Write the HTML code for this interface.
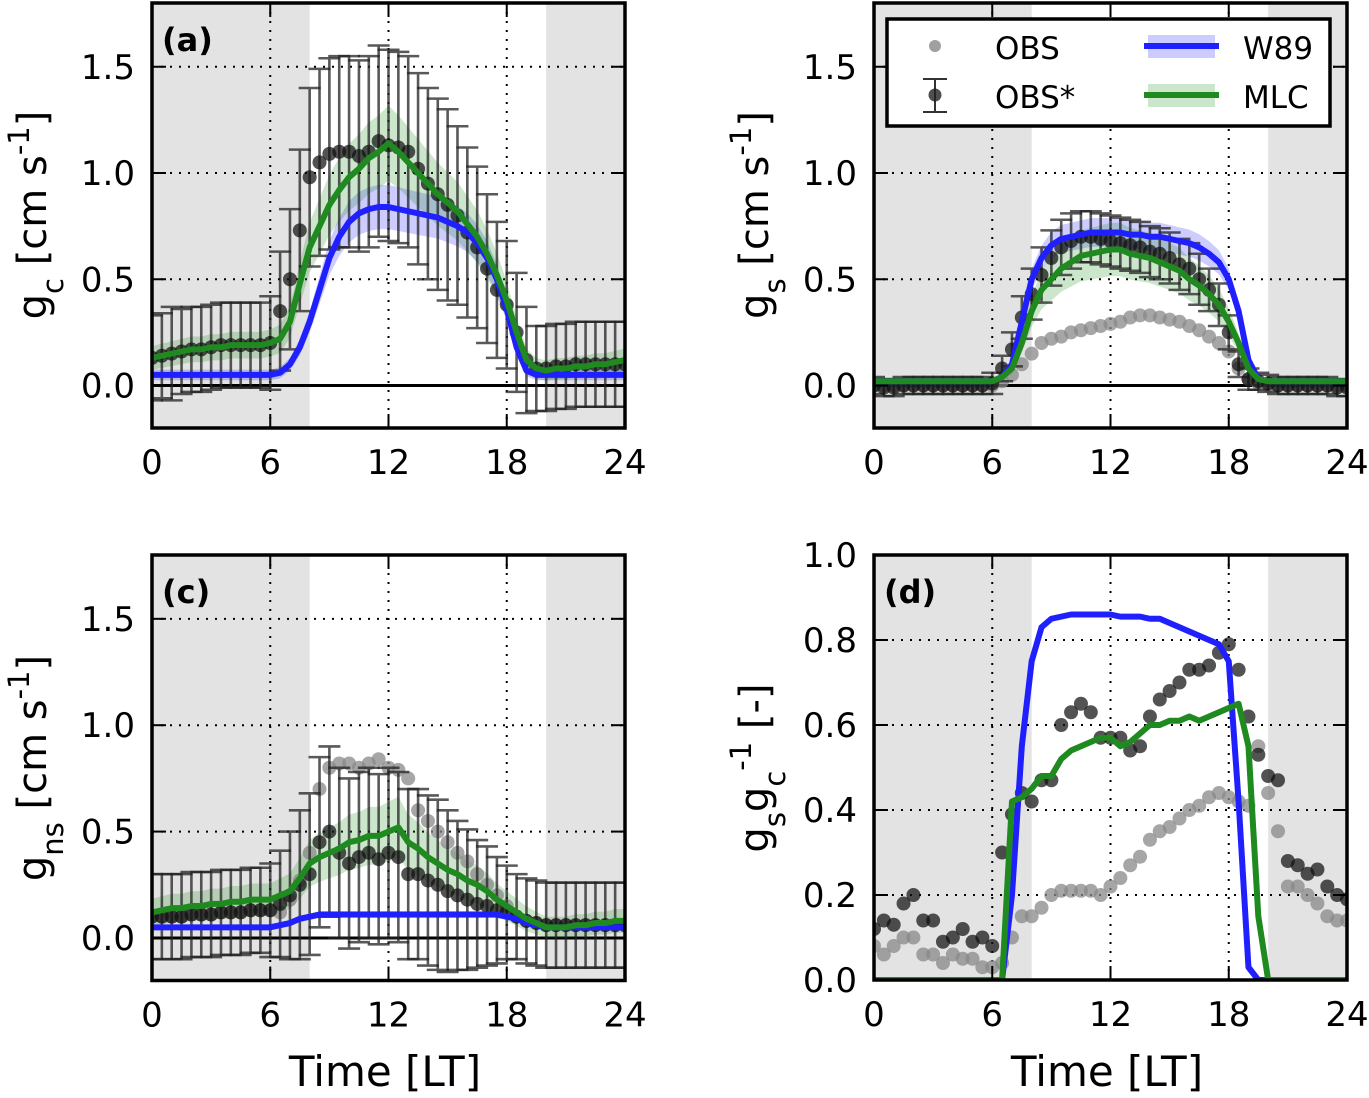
<!DOCTYPE html>
<html><head><meta charset="utf-8"><style>
html,body{margin:0;padding:0;background:#fff}
svg text{font-family:"DejaVu Sans","Liberation Sans",sans-serif;fill:#000}
</style></head><body>
<svg id="fig" width="1369" height="1093" viewBox="0 0 1369 1093" xmlns="http://www.w3.org/2000/svg"></svg>
<script>
// half-hourly times 0..24
const times = Array.from({length:49},(_, i)=>i*0.5);
const xTicks = [0,6,12,18,24];
const yTicksG = [0.0,0.5,1.0,1.5];
const yTicksD = [0.0,0.2,0.4,0.6,0.8,1.0];
const nightSpans = [[0,8],[20,24]];

// panel a: gc
const obsStarA = [0.13,0.14,0.15,0.16,0.17,0.17,0.18,0.19,0.19,0.19,0.19,0.19,0.2,0.35,0.5,0.73,0.98,1.05,1.09,1.1,1.1,1.08,1.1,1.15,1.13,1.12,1.1,1.02,0.95,0.9,0.85,0.8,0.72,0.65,0.55,0.45,0.38,0.25,0.12,0.08,0.08,0.09,0.09,0.1,0.1,0.1,0.1,0.1,0.1];
const errA = [0.2,0.2,0.22,0.2,0.2,0.2,0.2,0.2,0.2,0.2,0.2,0.2,0.22,0.28,0.33,0.38,0.42,0.44,0.45,0.45,0.45,0.45,0.45,0.45,0.45,0.45,0.45,0.45,0.45,0.45,0.45,0.42,0.4,0.38,0.35,0.32,0.3,0.28,0.25,0.2,0.2,0.2,0.2,0.2,0.2,0.2,0.2,0.2,0.2];
const mlcA = [0.13,0.14,0.15,0.16,0.17,0.17,0.18,0.18,0.19,0.19,0.19,0.19,0.2,0.22,0.3,0.48,0.65,0.75,0.85,0.92,0.98,1.02,1.07,1.1,1.14,1.1,1.05,1.0,0.95,0.9,0.86,0.82,0.76,0.7,0.62,0.52,0.4,0.25,0.12,0.08,0.07,0.08,0.08,0.09,0.09,0.1,0.1,0.11,0.12];
const w89A = [0.05,0.05,0.05,0.05,0.05,0.05,0.05,0.05,0.05,0.05,0.05,0.05,0.05,0.06,0.1,0.18,0.3,0.45,0.6,0.7,0.77,0.81,0.83,0.84,0.84,0.83,0.82,0.81,0.8,0.79,0.77,0.75,0.72,0.67,0.6,0.5,0.36,0.18,0.07,0.05,0.05,0.05,0.05,0.05,0.05,0.05,0.05,0.05,0.05];

// panel b: gs
const obsStarB = [0,-0.01,-0.01,0,0,0,0,0,0,0,0,0,0.01,0.08,0.17,0.32,0.43,0.52,0.6,0.65,0.68,0.7,0.7,0.69,0.68,0.67,0.66,0.65,0.63,0.62,0.6,0.57,0.55,0.5,0.45,0.38,0.25,0.1,0.03,0.02,0.01,0,0,0,0,0,0,-0.01,-0.01];
const errB = [0.04,0.04,0.04,0.04,0.04,0.04,0.04,0.04,0.04,0.04,0.04,0.04,0.05,0.06,0.08,0.1,0.12,0.13,0.13,0.13,0.13,0.12,0.12,0.12,0.12,0.12,0.12,0.12,0.12,0.12,0.12,0.12,0.12,0.12,0.1,0.1,0.08,0.06,0.05,0.04,0.04,0.04,0.04,0.04,0.04,0.04,0.04,0.04,0.04];
const obsB = [0,0,0,0,0,0,0,0,0,0,0,0,0,0.02,0.05,0.1,0.15,0.2,0.22,0.23,0.25,0.26,0.27,0.28,0.29,0.3,0.32,0.33,0.33,0.32,0.31,0.3,0.28,0.26,0.23,0.2,0.16,0.08,0.03,0.01,0,0,0,0,0,0,0,0,0];
const w89B = [0.02,0.02,0.02,0.02,0.02,0.02,0.02,0.02,0.02,0.02,0.02,0.02,0.02,0.04,0.1,0.3,0.5,0.6,0.66,0.69,0.7,0.71,0.72,0.72,0.72,0.72,0.71,0.71,0.7,0.7,0.69,0.68,0.67,0.65,0.62,0.58,0.5,0.35,0.12,0.03,0.02,0.02,0.02,0.02,0.02,0.02,0.02,0.02,0.02];
const mlcB = [0.02,0.02,0.02,0.02,0.02,0.02,0.02,0.02,0.02,0.02,0.02,0.02,0.02,0.04,0.08,0.2,0.35,0.45,0.5,0.55,0.58,0.61,0.62,0.63,0.64,0.64,0.62,0.61,0.6,0.58,0.56,0.54,0.5,0.47,0.43,0.38,0.3,0.2,0.08,0.03,0.02,0.02,0.02,0.02,0.02,0.02,0.02,0.02,0.02];

// panel c: gns
const obsStarC = [0.1,0.1,0.1,0.1,0.11,0.11,0.11,0.12,0.12,0.12,0.13,0.13,0.13,0.16,0.2,0.25,0.3,0.45,0.5,0.4,0.35,0.38,0.4,0.37,0.4,0.38,0.3,0.3,0.27,0.25,0.22,0.2,0.18,0.16,0.15,0.13,0.12,0.1,0.08,0.07,0.06,0.06,0.06,0.06,0.06,0.06,0.06,0.06,0.06];
const errC = [0.2,0.2,0.2,0.2,0.2,0.2,0.2,0.2,0.2,0.2,0.2,0.2,0.22,0.25,0.3,0.35,0.38,0.4,0.4,0.4,0.4,0.4,0.4,0.4,0.4,0.4,0.4,0.4,0.4,0.4,0.38,0.35,0.33,0.3,0.28,0.25,0.22,0.2,0.2,0.2,0.2,0.2,0.2,0.2,0.2,0.2,0.2,0.2,0.2];
const obsC = [0.1,0.1,0.1,0.1,0.11,0.11,0.11,0.12,0.12,0.12,0.13,0.13,0.13,0.12,0.18,0.27,0.4,0.7,0.8,0.82,0.82,0.8,0.82,0.84,0.8,0.79,0.75,0.6,0.55,0.5,0.45,0.4,0.36,0.3,0.25,0.2,0.15,0.1,0.08,0.07,0.06,0.06,0.06,0.06,0.06,0.06,0.06,0.06,0.06];
const mlcC = [0.12,0.13,0.14,0.14,0.15,0.15,0.16,0.16,0.17,0.17,0.18,0.18,0.18,0.2,0.22,0.28,0.35,0.38,0.4,0.42,0.45,0.46,0.48,0.48,0.5,0.52,0.45,0.42,0.38,0.35,0.32,0.3,0.27,0.25,0.22,0.18,0.15,0.12,0.09,0.07,0.05,0.05,0.05,0.06,0.06,0.07,0.07,0.08,0.08];
const w89C = [0.05,0.05,0.05,0.05,0.05,0.05,0.05,0.05,0.05,0.05,0.05,0.05,0.05,0.06,0.07,0.09,0.1,0.11,0.11,0.11,0.11,0.11,0.11,0.11,0.11,0.11,0.11,0.11,0.11,0.11,0.11,0.11,0.11,0.11,0.11,0.11,0.1,0.09,0.07,0.06,0.05,0.05,0.05,0.05,0.05,0.05,0.05,0.05,0.05];

// panel d: gs/gc
const obsStarD = [0.12,0.14,0.13,0.18,0.2,0.14,0.14,0.09,0.1,0.12,0.09,0.1,0.08,0.3,0.39,0.44,0.42,0.47,0.47,0.6,0.63,0.65,0.63,0.57,0.57,0.57,0.54,0.55,0.62,0.66,0.68,0.7,0.73,0.73,0.74,0.77,0.79,0.73,0.62,0.53,0.48,0.47,0.28,0.27,0.25,0.26,0.22,0.2,0.19];
const obsD = [0.08,0.06,0.08,0.1,0.1,0.06,0.06,0.04,0.06,0.05,0.05,0.03,0.03,0.04,0.1,0.15,0.15,0.17,0.2,0.21,0.21,0.21,0.21,0.2,0.22,0.24,0.27,0.29,0.33,0.35,0.36,0.38,0.4,0.41,0.43,0.44,0.43,0.42,0.41,0.55,0.44,0.35,0.22,0.22,0.2,0.18,0.15,0.14,0.14];
const w89D = [0,0,0,0,0,0,0,0,0,0,0,0,0,0,0.2,0.55,0.75,0.83,0.85,0.855,0.86,0.86,0.86,0.86,0.86,0.855,0.855,0.855,0.85,0.85,0.84,0.83,0.82,0.81,0.8,0.79,0.75,0.42,0.03,0,0,0,0,0,0,0,0,0,0];
const mlcD = [0,0,0,0,0,0,0,0,0,0,0,0,0,0,0.42,0.43,0.45,0.48,0.48,0.52,0.54,0.55,0.56,0.57,0.57,0.55,0.56,0.58,0.6,0.6,0.61,0.61,0.62,0.61,0.62,0.63,0.64,0.65,0.55,0.15,0,0,0,0,0,0,0,0,0];

const NS='http://www.w3.org/2000/svg';
const svg=document.getElementById('fig');
function mk(tag,attrs,parent){const e=document.createElementNS(NS,tag);for(const k in attrs)e.setAttribute(k,attrs[k]);(parent||svg).appendChild(e);return e;}

function panel(opt){
  const g=mk('g',{});
  
  
  const L=opt.x0,R=opt.x1,T=opt.y1px,B=opt.y0px;
  const xs=t=>L+(t-0)/24*(R-L);
  const ys=v=>B-(v-opt.ymin)/(opt.ymax-opt.ymin)*(B-T);
  const clipId='clip'+opt.id;
  const cp=mk('clipPath',{id:clipId},g);mk('rect',{x:L,y:T,width:R-L,height:B-T},cp);
  const body=mk('g',{'clip-path':'url(#'+clipId+')'},g);
  nightSpans.forEach(s=>{const r=mk('rect',{x:xs(s[0]),y:T,width:xs(s[1])-xs(s[0]),height:B-T,fill:'#e3e3e3'},body);
    });
  xTicks.slice(1,-1).forEach(t=>{const l=mk('line',{x1:xs(t),x2:xs(t),y1:T,y2:B,stroke:'#000','stroke-width':2,'stroke-dasharray':'2,7'},body);
    });
  opt.yticks.forEach(v=>{if(v<=opt.ymin||v>=opt.ymax)return;const l=mk('line',{x1:L,x2:R,y1:ys(v),y2:ys(v),stroke:'#000','stroke-width':2,'stroke-dasharray':'2,7'},body);
    });
  if(opt.zeroLine){const z=mk('line',{x1:L,x2:R,y1:ys(0),y2:ys(0),stroke:'#000','stroke-width':3},body);
    }
  function band(arr,w0,wf,col,name){
    const w=v=>w0+wf*Math.abs(v);
    let d='';arr.forEach((v,i)=>{d+=(i?'L':'M')+xs(times[i])+','+ys(v+w(v));});
    for(let i=arr.length-1;i>=0;i--)d+='L'+xs(times[i])+','+ys(arr[i]-w(arr[i]));
    const p=mk('path',{d:d+'Z',fill:col,'fill-opacity':0.2,stroke:'none'},body);
    
  }
  function line(arr,col,name){
    const d=arr.map((v,i)=>(i?'L':'M')+xs(times[i])+','+ys(v)).join('');
    const p=mk('path',{d:d,fill:'none',stroke:col,'stroke-width':6,'stroke-linejoin':'round'},body);
    
  }
  function dots(arr,col,op,name,err){
    arr.forEach((v,i)=>{
      if(err){const x=xs(times[i]);
        const e=mk('path',{d:'M'+x+','+ys(v-err[i])+'V'+ys(v+err[i])+'M'+(x-11)+','+ys(v-err[i])+'H'+(x+11)+'M'+(x-11)+','+ys(v+err[i])+'H'+(x+11),stroke:'#222','stroke-width':2.6,'stroke-opacity':0.75,fill:'none'},body);
        }
      const c=mk('circle',{cx:xs(times[i]),cy:ys(v),r:7,fill:col,'fill-opacity':op},body);
      
    });
  }
  if(opt.bands){band(opt.w89,opt.bw89[0],opt.bw89[1],'#0000ff','w89-band');band(opt.mlc,opt.bmlc[0],opt.bmlc[1],'#008000','mlc-band');}
  if(opt.obs)dots(opt.obs,'#888',0.75,'obs-point',null);
  dots(opt.obsStar,'#111',0.72,'obs-star-point',opt.err);
  line(opt.w89,'#2020ff','w89-line');
  line(opt.mlc,'#1f8a1f','mlc-line');
  const f=mk('rect',{x:L,y:T,width:R-L,height:B-T,fill:'none',stroke:'#000','stroke-width':3.5},g);
  
  xTicks.forEach(t=>{
    mk('line',{x1:xs(t),x2:xs(t),y1:B,y2:B-14,stroke:'#000','stroke-width':2},g);
    mk('line',{x1:xs(t),x2:xs(t),y1:T,y2:T+14,stroke:'#000','stroke-width':2},g);
    const tx=mk('text',{x:xs(t),y:B+46,'font-size':34,'text-anchor':'middle'},g);tx.textContent=String(t);
    
  });
  opt.yticks.forEach(v=>{
    mk('line',{x1:L,x2:L+14,y1:ys(v),y2:ys(v),stroke:'#000','stroke-width':2},g);
    mk('line',{x1:R,x2:R-14,y1:ys(v),y2:ys(v),stroke:'#000','stroke-width':2},g);
    const tx=mk('text',{x:L-17,y:ys(v)+12,'font-size':34,'text-anchor':'end'},g);tx.textContent=v.toFixed(1);
    
  });
  const lb=mk('text',{x:L+10,y:T+48,'font-size':32,'font-weight':'bold'},g);lb.textContent=opt.label;
  
  return {xs,ys,L,R,T,B,g};
}

function ylabel(html,x,y){
  const t=mk('text',{x:0,y:0,'font-size':40,'text-anchor':'middle',transform:'translate('+x+','+y+') rotate(-90)'});
  t.innerHTML=html;
  
}
function xlabel(x,y){
  const t=mk('text',{x:x,y:y,'font-size':42,'text-anchor':'middle'});t.textContent='Time [LT]';
  
}

panel({id:'a',name:'panel-a',label:'(a)',x0:152,x1:625,y0px:428,y1px:3,ymin:-0.2,ymax:1.8,yticks:yTicksG,zeroLine:true,bands:true,
  obsStar:obsStarA,err:errA,mlc:mlcA,w89:w89A,bmlc:[0.04,0.12],bw89:[0.02,0.1]});
panel({id:'b',name:'panel-b',label:'(b)',x0:874,x1:1347,y0px:428,y1px:3,ymin:-0.2,ymax:1.8,yticks:yTicksG,zeroLine:true,bands:true,
  obsStar:obsStarB,err:errB,obs:obsB,mlc:mlcB,w89:w89B,bmlc:[0.01,0.18],bw89:[0.01,0.08]});
panel({id:'c',name:'panel-c',label:'(c)',x0:152,x1:625,y0px:980.5,y1px:555,ymin:-0.2,ymax:1.8,yticks:yTicksG,zeroLine:true,bands:true,
  obsStar:obsStarC,err:errC,obs:obsC,mlc:mlcC,w89:w89C,bmlc:[0.04,0.2],bw89:[0.01,0.05]});
panel({id:'d',name:'panel-d',label:'(d)',x0:874,x1:1347,y0px:980,y1px:555,ymin:0,ymax:1.0,yticks:yTicksD,zeroLine:false,bands:false,
  obsStar:obsStarD,err:null,obs:obsD,mlc:mlcD,w89:w89D});

ylabel('g<tspan baseline-shift="sub" font-size="29">c</tspan> [cm s<tspan baseline-shift="super" font-size="29">-1</tspan>]',46,215);
ylabel('g<tspan baseline-shift="sub" font-size="29">s</tspan> [cm s<tspan baseline-shift="super" font-size="29">-1</tspan>]',768,215);
ylabel('g<tspan baseline-shift="sub" font-size="29">ns</tspan> [cm s<tspan baseline-shift="super" font-size="29">-1</tspan>]',46,768);
ylabel('g<tspan baseline-shift="sub" font-size="29">s</tspan>g<tspan baseline-shift="sub" font-size="29">c</tspan><tspan baseline-shift="super" font-size="29">-1</tspan> [-]',768,768);
xlabel(385,1086);
xlabel(1107,1086);

const lg=mk('g',{});


mk('rect',{x:887,y:19,width:443,height:107,fill:'#fff',stroke:'#000','stroke-width':3.5},lg);
mk('circle',{cx:935,cy:46,r:6,fill:'#888','fill-opacity':0.8},lg);
mk('path',{d:'M935,79V112M923,79H947M923,112H947',stroke:'#333','stroke-width':2},lg);
mk('circle',{cx:935,cy:95,r:6.5,fill:'#222','fill-opacity':0.8},lg);
mk('rect',{x:1148,y:35,width:67,height:23,fill:'#0000ff','fill-opacity':0.2},lg);
mk('line',{x1:1144,x2:1219,y1:46,y2:46,stroke:'#2020ff','stroke-width':6},lg);
mk('rect',{x:1148,y:84,width:67,height:23,fill:'#008000','fill-opacity':0.2},lg);
mk('line',{x1:1144,x2:1219,y1:95,y2:95,stroke:'#1f8a1f','stroke-width':6},lg);
[['OBS',995,59],['OBS*',995,108],['W89',1243,59],['MLC',1243,108]].forEach(a=>{
  const t=mk('text',{x:a[1],y:a[2],'font-size':31},lg);t.textContent=a[0];
  
});
</script>
</body></html>
